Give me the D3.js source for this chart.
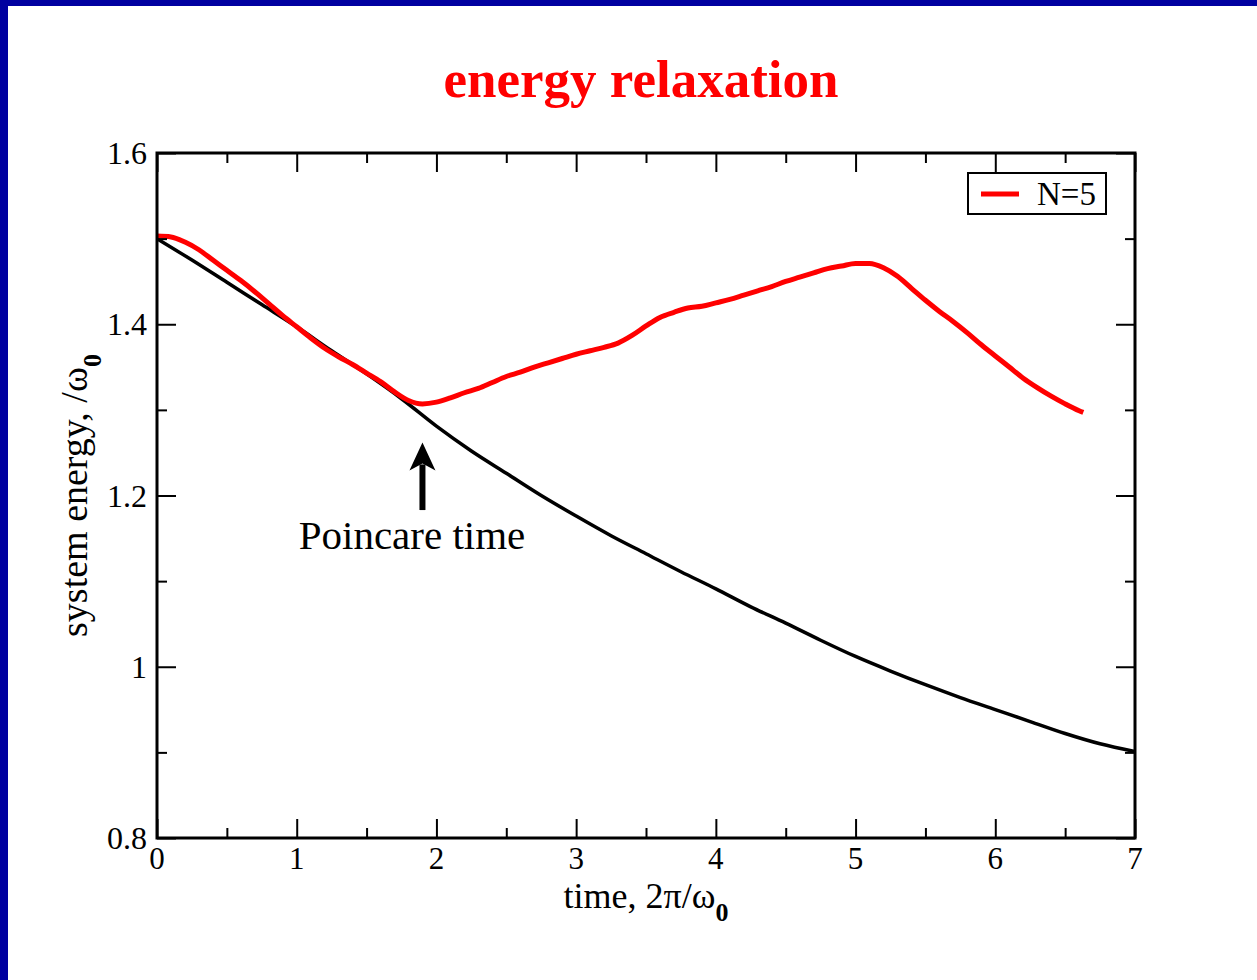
<!DOCTYPE html>
<html>
<head>
<meta charset="utf-8">
<script src="https://cdn.jsdelivr.net/npm/d3@7/dist/d3.min.js"></script>
<style>
  html, body { margin: 0; padding: 0; background: #ffffff; }
  svg { display: block; }
  text { font-family: "Liberation Serif", "Times New Roman", serif; }
</style>
</head>
<body>
<svg id="chart" width="1257" height="980"></svg>
<script>
// ---- data ----
const titleText = "energy relaxation";
const xLabelText = "time, 2π/ω";
const yLabelText = "system energy, /ω";
const legendLabel = "N=5";

const xTicks = [0, 1, 2, 3, 4, 5, 6, 7];
const xTickLabels = ["0", "1", "2", "3", "4", "5", "6", "7"];
const xMinorTicks = [0.5, 1.5, 2.5, 3.5, 4.5, 5.5, 6.5];
const yTicks = [0.8, 1.0, 1.2, 1.4, 1.6];
const yTickLabels = ["0.8", "1", "1.2", "1.4", "1.6"];
const yMinorTicks = [0.9, 1.1, 1.3, 1.5];

// red curve (N=5): time and energy
const redTime = [0, 0.1, 0.2, 0.3, 0.4, 0.5, 0.6, 0.7, 0.8, 0.9, 1.0, 1.1, 1.2, 1.3, 1.4, 1.5, 1.6, 1.7, 1.8, 1.9,
  2.0, 2.1, 2.2, 2.3, 2.4, 2.5, 2.6, 2.7, 2.8, 2.9, 3.0, 3.1, 3.2, 3.3, 3.4, 3.5, 3.6, 3.7, 3.8, 3.9,
  4.0, 4.1, 4.2, 4.3, 4.4, 4.5, 4.6, 4.7, 4.8, 4.9, 5.0, 5.1, 5.2, 5.3, 5.4, 5.5, 5.6, 5.7, 5.8, 5.9,
  6.0, 6.1, 6.2, 6.3, 6.4, 6.5, 6.6, 6.63];
const redEnergy = [1.503, 1.502, 1.496, 1.487, 1.475, 1.463, 1.451, 1.438, 1.424, 1.410, 1.397, 1.384, 1.372, 1.362, 1.353, 1.343, 1.333, 1.321, 1.311, 1.307,
  1.309, 1.314, 1.320, 1.325, 1.332, 1.339, 1.344, 1.350, 1.355, 1.360, 1.365, 1.369, 1.373, 1.378, 1.387, 1.398, 1.408, 1.414, 1.419, 1.421,
  1.425, 1.429, 1.434, 1.439, 1.444, 1.450, 1.455, 1.460, 1.465, 1.468, 1.471, 1.471, 1.466, 1.456, 1.442, 1.428, 1.415, 1.403, 1.390, 1.376,
  1.363, 1.350, 1.337, 1.326, 1.316, 1.307, 1.299, 1.297];

// black curve: time and energy
const blackTime = [0, 0.25, 0.5, 0.75, 1.0, 1.25, 1.5, 1.75, 2.0, 2.25, 2.5, 2.75, 3.0, 3.25, 3.5, 3.75,
  4.0, 4.25, 4.5, 4.75, 5.0, 5.25, 5.5, 5.75, 6.0, 6.25, 6.5, 6.75, 7.0];
const blackEnergy = [1.500, 1.475, 1.449, 1.423, 1.397, 1.369, 1.342, 1.313, 1.281, 1.252, 1.226, 1.200, 1.176, 1.153, 1.132, 1.111,
  1.091, 1.070, 1.051, 1.031, 1.012, 0.995, 0.979, 0.964, 0.950, 0.936, 0.922, 0.910, 0.901];

// annotation (in data units)
const annotText = "Poincare time";
const arrowTime = 1.9;
const arrowFrom = 1.183;
const arrowTo = 1.262;
const annotTime = 1.825;
const annotEnergy = 1.137;

// ---- layout ----
const svg = d3.select("#chart");
const W = 1257, H = 980;
const mLeft = 157, mRight = 1135, mTop = 153, mBottom = 838;

// background and blue frame (left and top)
svg.append("rect").attr("x", 0).attr("y", 0).attr("width", W).attr("height", H).attr("fill", "#ffffff");
svg.append("rect").attr("x", 0).attr("y", 0).attr("width", 8).attr("height", H).attr("fill", "#0000a0");
svg.append("rect").attr("x", 0).attr("y", 0).attr("width", W).attr("height", 6).attr("fill", "#0000a0");

const x = d3.scaleLinear().domain([0, 7]).range([mLeft, mRight]);
const y = d3.scaleLinear().domain([0.8, 1.6]).range([mBottom, mTop]);

// title
svg.append("text")
  .attr("x", (mLeft + mRight) / 2 - 5).attr("y", 97)
  .attr("text-anchor", "middle")
  .attr("fill", "#ff0000")
  .attr("font-weight", "bold")
  .attr("font-size", 53)
  .text(titleText);

// curves
const clip = svg.append("defs").append("clipPath").attr("id", "plotclip");
clip.append("rect").attr("x", mLeft).attr("y", mTop).attr("width", mRight - mLeft).attr("height", mBottom - mTop);

const line = d3.line().x(d => x(d[0])).y(d => y(d[1])).curve(d3.curveMonotoneX);
const blackData = blackTime.map((t, i) => [t, blackEnergy[i]]);
const redData = redTime.map((t, i) => [t, redEnergy[i]]);

const plot = svg.append("g").attr("clip-path", "url(#plotclip)");
plot.append("path").datum(blackData).attr("d", line)
  .attr("fill", "none").attr("stroke", "#000000").attr("stroke-width", 3.5).attr("stroke-linejoin", "round");
plot.append("path").datum(redData).attr("d", line)
  .attr("fill", "none").attr("stroke", "#ff0000").attr("stroke-width", 5).attr("stroke-linejoin", "round");

// axes: ticks inward on all four sides
const majorLen = 19, minorLen = 10;
const axisG = svg.append("g");
function drawAxis(axisGen, tx, ty) {
  const g = axisG.append("g").attr("transform", `translate(${tx},${ty})`).call(axisGen);
  g.select(".domain").remove();
  g.selectAll(".tick line").attr("stroke", "#000").attr("stroke-width", 2);
  g.selectAll(".tick text").remove();
  return g;
}
// bottom
drawAxis(d3.axisTop(x).tickValues(xTicks).tickSize(majorLen), 0, mBottom);
drawAxis(d3.axisTop(x).tickValues(xMinorTicks).tickSize(minorLen), 0, mBottom);
// top
drawAxis(d3.axisBottom(x).tickValues(xTicks).tickSize(majorLen), 0, mTop);
drawAxis(d3.axisBottom(x).tickValues(xMinorTicks).tickSize(minorLen), 0, mTop);
// left
drawAxis(d3.axisRight(y).tickValues(yTicks).tickSize(majorLen), mLeft, 0);
drawAxis(d3.axisRight(y).tickValues(yMinorTicks).tickSize(minorLen), mLeft, 0);
// right
drawAxis(d3.axisLeft(y).tickValues(yTicks).tickSize(majorLen), mRight, 0);
drawAxis(d3.axisLeft(y).tickValues(yMinorTicks).tickSize(minorLen), mRight, 0);

// frame
svg.append("rect").attr("x", mLeft).attr("y", mTop).attr("width", mRight - mLeft).attr("height", mBottom - mTop)
  .attr("fill", "none").attr("stroke", "#000").attr("stroke-width", 3);

// tick labels
svg.append("g").selectAll("text").data(xTicks).join("text")
  .attr("x", d => x(d)).attr("y", 869)
  .attr("text-anchor", "middle").attr("font-size", 31).attr("fill", "#000")
  .text((d, i) => xTickLabels[i]);
svg.append("g").selectAll("text").data(yTicks).join("text")
  .attr("x", mLeft - 10).attr("y", d => y(d) + 11)
  .attr("text-anchor", "end").attr("font-size", 32).attr("fill", "#000")
  .text((d, i) => yTickLabels[i]);

// x label
const xl = svg.append("text")
  .attr("x", (mLeft + mRight) / 2).attr("y", 908)
  .attr("text-anchor", "middle").attr("font-size", 36).attr("fill", "#000");
xl.append("tspan").text(xLabelText);
xl.append("tspan").attr("dy", 13).attr("font-size", 26).attr("font-weight", "bold").text("0");

// y label
const yl = svg.append("text")
  .attr("transform", `translate(87,${(mTop + mBottom) / 2}) rotate(-90)`)
  .attr("text-anchor", "middle").attr("font-size", 38).attr("fill", "#000");
yl.append("tspan").text(yLabelText);
yl.append("tspan").attr("dy", 14).attr("font-size", 26).attr("font-weight", "bold").text("0");

// legend
const lg = svg.append("g");
lg.append("rect").attr("x", 968).attr("y", 173).attr("width", 138).attr("height", 41)
  .attr("fill", "#fff").attr("stroke", "#000").attr("stroke-width", 2);
lg.append("line").attr("x1", 981).attr("x2", 1019).attr("y1", 194).attr("y2", 194)
  .attr("stroke", "#ff0000").attr("stroke-width", 5);
lg.append("text").attr("x", 1037).attr("y", 205).attr("font-size", 33).attr("fill", "#000").text(legendLabel);

// annotation arrow
const ax = x(arrowTime), ay0 = y(arrowFrom), ay1 = y(arrowTo);
svg.append("line").attr("x1", ax).attr("x2", ax).attr("y1", ay0).attr("y2", ay1 + 22)
  .attr("stroke", "#000").attr("stroke-width", 6);
svg.append("path")
  .attr("d", `M${ax},${ay1} L${ax + 13},${ay1 + 28} L${ax},${ay1 + 21} L${ax - 13},${ay1 + 28} Z`)
  .attr("fill", "#000");
svg.append("text").attr("x", x(annotTime)).attr("y", y(annotEnergy))
  .attr("text-anchor", "middle").attr("font-size", 41).attr("fill", "#000").text(annotText);
</script>
</body>
</html>
